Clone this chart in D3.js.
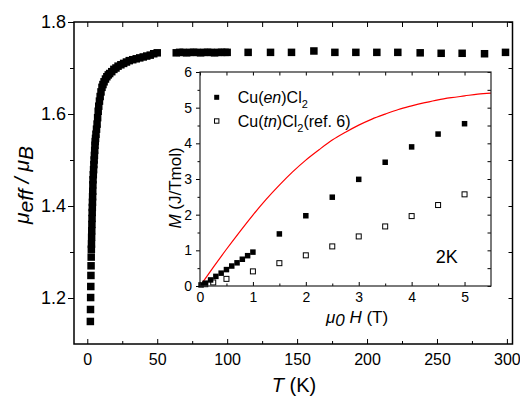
<!DOCTYPE html>
<html><head><meta charset="utf-8">
<script src="https://cdn.jsdelivr.net/npm/d3@7"></script>
<style>body{margin:0;background:#fff} text{font-family:"Liberation Sans",Arial,sans-serif;fill:#000}</style>
</head><body><svg id="c" width="520" height="401"></svg>
<script>
// ---- main panel data: mu_eff / mu_B vs T ----
const mainT = [2.2,2.3,2.4,2.5,2.6,2.7,2.8,2.9,
  3.0,3.1,3.2,3.3,3.4,3.5,3.6,3.7,3.8,3.9,4.0,4.1,4.3,4.5,4.7,4.9,5.1,5.3,5.5,5.7,5.9,6.2,6.6,7.0,7.4,7.8,8.2,8.7,9.2,9.8,10.5,11.2,12.0,13.0,14.0,15.0,16.0,17.5,19.0,20.5,22.0,24.0,26.0,28.0,30.0,32.5,35.0,37.5,40.0,42.5,45.0,47.5,50.0,
  63.6,66,68.5,71,73.5,76,78.5,81,83.5,86,88.5,91,93.5,96,98.5,100,
  115,131,146,162,177,192,207,222,238,253,268,284,299];
const mainMu = [1.149,1.175,1.201,1.225,1.249,1.270,1.289,1.306,
  1.317,1.332,1.346,1.360,1.373,1.386,1.397,1.408,1.420,1.432,1.446,1.457,1.468,1.479,1.490,1.500,1.510,1.521,1.532,1.540,1.547,1.556,1.567,1.578,1.592,1.606,1.617,1.628,1.638,1.648,1.658,1.664,1.670,1.676,1.681,1.685,1.688,1.692,1.697,1.700,1.704,1.707,1.710,1.713,1.716,1.718,1.720,1.722,1.724,1.726,1.728,1.731,1.733,
  1.733,1.734,1.734,1.733,1.734,1.734,1.734,1.733,1.734,1.734,1.734,1.733,1.734,1.734,1.734,1.734,
  1.734,1.734,1.734,1.737,1.734,1.734,1.734,1.734,1.733,1.732,1.732,1.731,1.734];
const mainXTicks = [0,50,100,150,200,250,300];
const mainXMinor = [25,75,125,175,225,275];
const mainYTicks = [1.2,1.4,1.6,1.8];
const mainYMinor = [1.3,1.5,1.7];

// ---- inset data: M vs mu0 H at 2 K ----
const enH = [0.02,0.1,0.2,0.3,0.4,0.5,0.6,0.7,0.8,0.9,1.0,1.5,2.0,2.5,3.0,3.5,4.0,4.5,5.0];
const enM = [0.03,0.08,0.17,0.27,0.36,0.46,0.56,0.65,0.75,0.85,0.95,1.46,1.97,2.49,2.99,3.47,3.90,4.26,4.55];
const tnH = [0.1,0.25,0.5,1.0,1.5,2.0,2.5,3.0,3.5,4.0,4.5,5.0];
const tnM = [0.05,0.10,0.20,0.41,0.64,0.86,1.11,1.39,1.67,1.96,2.27,2.57];
const fitH = [0.05,0.25,0.5,0.75,1.0,1.25,1.5,1.75,2.0,2.25,2.5,2.75,3.0,3.25,3.5,3.75,4.0,4.25,4.5,4.75,5.0,5.25,5.5];
const fitM = [0.10,0.52,1.03,1.52,1.99,2.43,2.83,3.20,3.53,3.82,4.09,4.31,4.51,4.68,4.82,4.95,5.05,5.14,5.22,5.28,5.33,5.38,5.41];
const insetXTicks = [0,1,2,3,4,5];
const insetXMinor = [0.5,1.5,2.5,3.5,4.5];
const insetYTicks = [0,1,2,3,4,5,6];
const insetYMinor = [0.5,1.5,2.5,3.5,4.5,5.5];
const legendLabels = ["Cu(en)Cl2","Cu(tn)Cl2(ref. 6)"];

const svg = d3.select("#c");

// ================= MAIN PANEL =================
const x = d3.scaleLinear().domain([-9.5, 304]).range([74, 512.5]);
const y = d3.scaleLinear().domain([1.1, 1.8]).range([344, 22]);
const [L,R] = x.range(), [B,T] = y.range();

function styleAxis(g, fs){
  g.select(".domain").remove();
  g.selectAll(".tick line").attr("stroke","#000").attr("stroke-width",1.2);
  g.selectAll(".tick text").attr("font-size",fs).attr("font-family","Liberation Sans, Arial, sans-serif").attr("fill","#000");
}
// bottom
svg.append("g").attr("transform",`translate(0,${B})`)
  .call(d3.axisBottom(x).tickValues(mainXTicks).tickSize(-5).tickPadding(10).tickFormat(d3.format("d")))
  .call(g=>styleAxis(g,16));
svg.append("g").attr("transform",`translate(0,${B})`)
  .call(d3.axisBottom(x).tickValues(mainXMinor).tickSize(-3).tickFormat(""))
  .call(g=>styleAxis(g,16));
// top
svg.append("g").attr("transform",`translate(0,${T})`)
  .call(d3.axisTop(x).tickValues(mainXTicks.concat(mainXMinor)).tickSize(-5).tickFormat(""))
  .call(g=>styleAxis(g,16));
// left
svg.append("g").attr("transform",`translate(${L},0)`)
  .call(d3.axisLeft(y).tickValues(mainYTicks).tickSize(6).tickPadding(2).tickFormat(d3.format(".1f")))
  .call(g=>styleAxis(g,18));
svg.append("g").attr("transform",`translate(${L},0)`)
  .call(d3.axisLeft(y).tickValues(mainYMinor).tickSize(4).tickFormat(""))
  .call(g=>styleAxis(g,18));
// right
svg.append("g").attr("transform",`translate(${R},0)`)
  .call(d3.axisRight(y).tickValues(mainYTicks.concat(mainYMinor)).tickSize(-4).tickFormat(""))
  .call(g=>styleAxis(g,18));
// frame
svg.append("rect").attr("x",L).attr("y",T).attr("width",R-L).attr("height",B-T)
  .attr("fill","none").attr("stroke","#000").attr("stroke-width",1.5);

// data
const ms = 7.5;
svg.append("g").selectAll("rect").data(mainT.map((t,i)=>[t,mainMu[i]])).join("rect")
  .attr("x",d=>x(d[0])-ms/2).attr("y",d=>y(d[1])-ms/2).attr("width",ms).attr("height",ms).attr("fill","#000");

// axis titles
svg.append("text").attr("x",294).attr("y",392).attr("text-anchor","middle").attr("font-size",20)
  .call(t=>{t.append("tspan").attr("font-style","italic").text("T");t.append("tspan").text(" (K)");});
svg.append("text").attr("transform","translate(29,185) rotate(-90)").attr("text-anchor","middle").attr("font-size",21).attr("font-style","italic")
  .call(t=>{
    t.append("tspan").text("μ");
    t.append("tspan").attr("dy",4).text("eff");
    t.append("tspan").attr("dy",-4).text(" / μ");
    t.append("tspan").attr("dy",4).text("B");
  });

// ================= INSET =================
const xi = d3.scaleLinear().domain([0,5.5]).range([200,491]);
const yi = d3.scaleLinear().domain([0,6]).range([286,72]);
const [iL,iR] = xi.range(), [iB,iT] = yi.range();
svg.append("rect").attr("x",iL).attr("y",iT).attr("width",iR-iL).attr("height",iB-iT).attr("fill","#fff");

svg.append("g").attr("transform",`translate(0,${iB})`)
  .call(d3.axisBottom(xi).tickValues(insetXTicks).tickSize(-4).tickPadding(6).tickFormat(d3.format("d")))
  .call(g=>styleAxis(g,14));
svg.append("g").attr("transform",`translate(0,${iB})`)
  .call(d3.axisBottom(xi).tickValues(insetXMinor).tickSize(-2.5).tickFormat(""))
  .call(g=>styleAxis(g,14));
svg.append("g").attr("transform",`translate(0,${iT})`)
  .call(d3.axisTop(xi).tickValues(insetXTicks.concat(insetXMinor)).tickSize(-3.5).tickFormat(""))
  .call(g=>styleAxis(g,14));
svg.append("g").attr("transform",`translate(${iL},0)`)
  .call(d3.axisLeft(yi).tickValues(insetYTicks).tickSize(4).tickPadding(4).tickFormat(d3.format("d")))
  .call(g=>styleAxis(g,14));
svg.append("g").attr("transform",`translate(${iL},0)`)
  .call(d3.axisLeft(yi).tickValues(insetYMinor).tickSize(2.5).tickFormat(""))
  .call(g=>styleAxis(g,14));
svg.append("g").attr("transform",`translate(${iR},0)`)
  .call(d3.axisRight(yi).tickValues(insetYTicks.concat(insetYMinor)).tickSize(-3.5).tickFormat(""))
  .call(g=>styleAxis(g,14));
svg.selectAll("g .tick line").attr("stroke-width",1);

// red curve
svg.append("path").datum(fitH.map((h,i)=>[h,fitM[i]]))
  .attr("d",d3.line().x(d=>xi(d[0])).y(d=>yi(d[1])).curve(d3.curveMonotoneX))
  .attr("fill","none").attr("stroke","#ff0000").attr("stroke-width",1.2);

// open squares (tn)
const os = 5;
svg.append("g").selectAll("rect").data(tnH.map((h,i)=>[h,tnM[i]])).join("rect")
  .attr("x",d=>xi(d[0])-os/2).attr("y",d=>yi(d[1])-os/2).attr("width",os).attr("height",os)
  .attr("fill","#fff").attr("stroke","#000").attr("stroke-width",1);
// filled squares (en)
const fs = 5.5;
svg.append("g").selectAll("rect").data(enH.map((h,i)=>[h,enM[i]])).join("rect")
  .attr("x",d=>xi(d[0])-fs/2).attr("y",d=>yi(d[1])-fs/2).attr("width",fs).attr("height",fs).attr("fill","#000");

// inset frame
svg.append("rect").attr("x",iL).attr("y",iT).attr("width",iR-iL).attr("height",iB-iT)
  .attr("fill","none").attr("stroke","#222").attr("stroke-width",1.2);

// legend
svg.append("rect").attr("x",216.7-2.5).attr("y",97.3-2.5).attr("width",5).attr("height",5).attr("fill","#000");
svg.append("rect").attr("x",216.7-2.2).attr("y",121-2.2).attr("width",4.4).attr("height",4.4).attr("fill","#fff").attr("stroke","#000").attr("stroke-width",1);
function formula(t, mid){
  t.append("tspan").text("Cu(");
  t.append("tspan").attr("font-style","italic").text(mid);
  t.append("tspan").text(")Cl");
  t.append("tspan").attr("font-size",11).attr("dy",5).text("2");
}
svg.append("text").attr("x",237.7).attr("y",103.3).attr("font-size",16)
  .call(t=>formula(t,"en"));
svg.append("text").attr("x",237.7).attr("y",127).attr("font-size",16)
  .call(t=>{formula(t,"tn"); t.append("tspan").attr("dy",-5).text("(ref. 6)");});

// 2K label
svg.append("text").attr("x",446.7).attr("y",263).attr("text-anchor","middle").attr("font-size",18).text("2K");

// inset axis titles
svg.append("text").attr("x",357).attr("y",323).attr("text-anchor","middle").attr("font-size",17)
  .call(t=>{
    t.append("tspan").attr("font-style","italic").text("μ");
    t.append("tspan").attr("font-style","italic").attr("dy",3).text("0");
    t.append("tspan").attr("font-style","italic").attr("dy",-3).text(" H");
    t.append("tspan").text(" (T)");
  });
svg.append("text").attr("transform","translate(181,188) rotate(-90)").attr("text-anchor","middle").attr("font-size",17)
  .call(t=>{
    t.append("tspan").attr("font-style","italic").text("M");
    t.append("tspan").text(" (J/Tmol)");
  });
</script></body></html>
